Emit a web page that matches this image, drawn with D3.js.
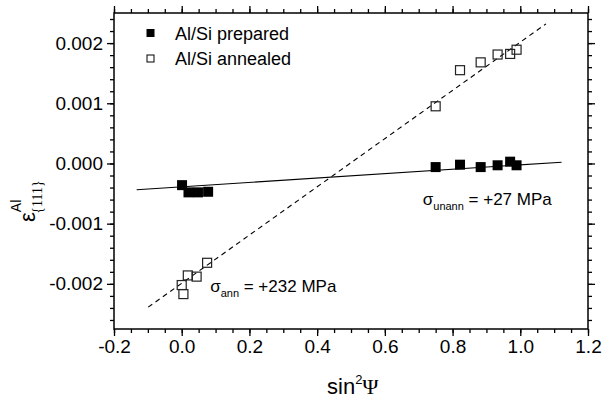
<!DOCTYPE html>
<html><head><meta charset="utf-8">
<script src="https://cdn.jsdelivr.net/npm/d3@7"></script>
<style>
body{margin:0;background:#fff;}
text{font-family:"Liberation Sans",Arial,sans-serif;fill:#000;}
</style></head>
<body><svg id="c" width="603" height="399"></svg>
<script>
// ---- data ----
const xTickValues = [-0.2, 0.0, 0.2, 0.4, 0.6, 0.8, 1.0, 1.2];
const xTickLabels = ["-0.2", "0.0", "0.2", "0.4", "0.6", "0.8", "1.0", "1.2"];
const yTickValues = [-0.002, -0.001, 0.000, 0.001, 0.002];
const yTickLabels = ["-0.002", "-0.001", "0.000", "0.001", "0.002"];

const preparedX = [0.001, 0.020, 0.048, 0.078, 0.750, 0.822, 0.883, 0.933, 0.970, 0.989];
const preparedY = [-0.00036, -0.00048, -0.00048, -0.00047, -0.00006, -0.00002, -0.00006, -0.00003, 0.00003, -0.00003];
const annealedX = [0.000, 0.005, 0.018, 0.044, 0.075, 0.750, 0.822, 0.883, 0.933, 0.970, 0.989];
const annealedY = [-0.00202, -0.00217, -0.00186, -0.00188, -0.00165, 0.00095, 0.00155, 0.00168, 0.00181, 0.00182, 0.00189];

const preparedFitX = [-0.133, 1.122];
const preparedFitY = [-0.000437, 0.0000216];
const annealedFitX = [-0.099, 1.076];
const annealedFitY = [-0.002387, 0.00232];

const legendLabels = ["Al/Si prepared", "Al/Si annealed"];

// ---- layout ----
const W = 603, H = 399;
const m = {left: 114, right: 15, top: 13, bottom: 70};
const svg = d3.select("#c");
const x = d3.scaleLinear().domain([-0.2, 1.2]).range([m.left, W - m.right]);
const y = d3.scaleLinear().domain([-0.00275, 0.0025]).range([H - m.bottom, m.top]);

const minorX = d3.range(-0.2, 1.2001, 0.05).map(v => +v.toFixed(3));
const minorY = d3.range(-0.0026, 0.00251, 0.0002).map(v => +v.toFixed(5));

const FS = 19;
// bottom axis
const gB = svg.append("g").attr("transform", `translate(0,${H - m.bottom})`);
gB.call(d3.axisBottom(x).tickValues(minorX).tickSize(4).tickFormat(""));
gB.call(g => g.append("g").call(d3.axisBottom(x).tickValues(xTickValues).tickSize(7).tickPadding(4)
  .tickFormat((d, i) => xTickLabels[i])));
// top axis
const gT = svg.append("g").attr("transform", `translate(0,${m.top})`);
gT.call(d3.axisTop(x).tickValues(minorX).tickSize(4).tickFormat(""));
gT.call(g => g.append("g").call(d3.axisTop(x).tickValues(xTickValues).tickSize(7).tickFormat("")));
// left axis
const gL = svg.append("g").attr("transform", `translate(${m.left},0)`);
gL.call(d3.axisLeft(y).tickValues(minorY).tickSize(4).tickFormat(""));
gL.call(g => g.append("g").call(d3.axisLeft(y).tickValues(yTickValues).tickSize(7).tickPadding(4)
  .tickFormat((d, i) => yTickLabels[i])));
// right axis
const gR = svg.append("g").attr("transform", `translate(${W - m.right},0)`);
gR.call(d3.axisRight(y).tickValues(minorY).tickSize(4).tickFormat(""));
gR.call(g => g.append("g").call(d3.axisRight(y).tickValues(yTickValues).tickSize(7).tickFormat("")));

svg.selectAll(".domain").remove();
svg.selectAll(".tick line").attr("stroke", "#000").attr("stroke-width", 1.3);
svg.selectAll(".tick text").attr("font-size", FS).attr("font-family", "Liberation Sans, Arial, sans-serif").attr("fill", "#000");

// frame
svg.append("rect").attr("x", m.left).attr("y", m.top)
  .attr("width", W - m.left - m.right).attr("height", H - m.top - m.bottom)
  .attr("fill", "none").attr("stroke", "#000").attr("stroke-width", 1.5);

// fit lines
const line = d3.line().x(d => x(d[0])).y(d => y(d[1]));
svg.append("path").datum(preparedFitX.map((v, i) => [v, preparedFitY[i]]))
  .attr("d", line).attr("fill", "none").attr("stroke", "#000").attr("stroke-width", 1.1);
svg.append("path").datum(annealedFitX.map((v, i) => [v, annealedFitY[i]]))
  .attr("d", line).attr("fill", "none").attr("stroke", "#000").attr("stroke-width", 1.1)
  .attr("stroke-dasharray", "5,4");

// markers
const S = 10;
svg.append("g").selectAll("rect").data(preparedX.map((v, i) => [v, preparedY[i]])).join("rect")
  .attr("x", d => x(d[0]) - S / 2).attr("y", d => y(d[1]) - S / 2)
  .attr("width", S).attr("height", S).attr("fill", "#000");
svg.append("g").selectAll("rect").data(annealedX.map((v, i) => [v, annealedY[i]])).join("rect")
  .attr("x", d => x(d[0]) - S / 2 + 0.5).attr("y", d => y(d[1]) - S / 2 + 0.5)
  .attr("width", S - 1).attr("height", S - 1).attr("fill", "none").attr("stroke", "#222").attr("stroke-width", 1.2);

// legend
const lg = svg.append("g");
legendLabels.forEach((t, i) => {
  const cy = 33 + i * 25.5;
  lg.append("rect").attr("x", 147).attr("y", cy - 3.5).attr("width", 7).attr("height", 7)
    .attr("fill", i === 0 ? "#000" : "none").attr("stroke", "#000").attr("stroke-width", 1);
  lg.append("text").attr("x", 175).attr("y", cy + 6.5).attr("font-size", 18).text(t);
});

// annotations
const a1 = svg.append("text").attr("x", x(0.084)).attr("y", y(-0.00214)).attr("font-size", 17);
a1.append("tspan").text("σ");
a1.append("tspan").attr("font-size", 11).attr("dy", 5).text("ann");
a1.append("tspan").attr("dy", -5).text(" = +232 MPa");

const a2 = svg.append("text").attr("x", x(0.712)).attr("y", y(-0.000698)).attr("font-size", 17);
a2.append("tspan").text("σ");
a2.append("tspan").attr("font-size", 11).attr("dy", 5).text("unann");
a2.append("tspan").attr("dy", -5).text(" = +27 MPa");

// x label
const xl = svg.append("text").attr("x", 327).attr("y", 394).attr("font-size", 22);
xl.append("tspan").text("sin");
xl.append("tspan").attr("font-size", 13).attr("dy", -10).text("2");
xl.append("tspan").attr("dy", 10).attr("font-family", "Liberation Serif, serif").text("Ψ");

// y label
const yl = svg.append("text").attr("transform", "translate(35,222) rotate(-90)").attr("font-size", 22);
yl.append("tspan").text("ε");
yl.append("tspan").attr("font-size", 14).attr("dy", -14).text("Al");
yl.append("tspan").attr("font-size", 14).attr("dx", -14).attr("dy", 21).attr("font-family", "Liberation Serif, serif").text("{111}");
</script></body></html>
